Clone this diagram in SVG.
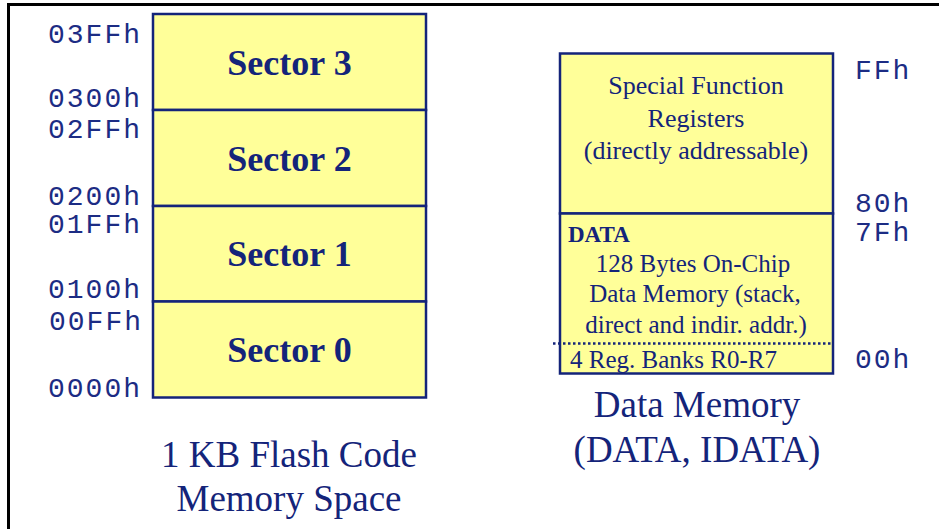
<svg xmlns="http://www.w3.org/2000/svg" width="939" height="529" viewBox="0 0 939 529">
<style>
.box{fill:#ffff99;stroke:#14247a;stroke-width:2.5}
.mono{font-family:"Liberation Mono","Courier New",monospace;font-size:28px;letter-spacing:2px;fill:#1c2c84}
.sec{font-family:"Liberation Serif","Times New Roman",serif;font-size:36px;font-weight:bold;fill:#14247a;text-anchor:middle}
.t{font-family:"Liberation Serif","Times New Roman",serif;font-size:25px;fill:#14247a}
.cap{font-family:"Liberation Serif","Times New Roman",serif;font-size:37px;fill:#14247a;text-anchor:middle}
.mid{text-anchor:middle}
.end{text-anchor:end}
</style>
<rect width="939" height="529" fill="#fff"/>
<path d="M8.5 529 V4.5 H939" fill="none" stroke="#000" stroke-width="3"/>
<g id="flash">
<g id="sector3"><rect class="box" x="153" y="14" width="273" height="96"/><text class="sec" x="289.5" y="75">Sector 3</text></g>
<g id="sector2"><rect class="box" x="153" y="110" width="273" height="96"/><text class="sec" x="289.5" y="171">Sector 2</text></g>
<g id="sector1"><rect class="box" x="153" y="206" width="273" height="95.5"/><text class="sec" x="289.5" y="266">Sector 1</text></g>
<g id="sector0"><rect class="box" x="153" y="301.5" width="273" height="96"/><text class="sec" x="289.5" y="362">Sector 0</text></g>
<g id="flash-addr">
<text class="mono end" x="142" y="43">03FFh</text>
<text class="mono end" x="142" y="107">0300h</text>
<text class="mono end" x="142" y="138">02FFh</text>
<text class="mono end" x="142" y="205">0200h</text>
<text class="mono end" x="142" y="233">01FFh</text>
<text class="mono end" x="142" y="298">0100h</text>
<text class="mono end" x="143" y="330">00FFh</text>
<text class="mono end" x="142" y="397">0000h</text>
</g>
<text class="cap" x="289" y="467">1 KB Flash Code</text>
<text class="cap" x="289" y="511">Memory Space</text>
</g>
<g id="datamem">
<g id="sfr"><rect class="box" x="560" y="53.5" width="273" height="160"/>
<text class="t mid" x="696" y="94" style="font-size:26px">Special Function</text>
<text class="t mid" x="696" y="127" style="font-size:26px">Registers</text>
<text class="t mid" x="696" y="159" style="font-size:26px">(directly addressable)</text>
</g>
<g id="data"><rect class="box" x="560" y="213.5" width="273" height="160"/>
<text class="t" x="568" y="242" style="font-weight:bold;font-size:23px">DATA</text>
<text class="t mid" x="693" y="272">128 Bytes On-Chip</text>
<text class="t mid" x="695" y="302">Data Memory (stack,</text>
<text class="t mid" x="696" y="333">direct and indir. addr.)</text>
<line x1="553" y1="343.5" x2="833" y2="343.5" stroke="#14247a" stroke-width="2.5" stroke-dasharray="2.5 2.5"/>
<text class="t" x="570" y="368">4 Reg. Banks R0-R7</text>
</g>
<g id="data-addr">
<text class="mono" x="855" y="79">FFh</text>
<text class="mono" x="855" y="212">80h</text>
<text class="mono" x="855" y="241">7Fh</text>
<text class="mono" x="855" y="368">00h</text>
</g>
<text class="cap" x="697" y="417">Data Memory</text>
<text class="cap" x="697" y="462">(DATA, IDATA)</text>
</g>
</svg>
